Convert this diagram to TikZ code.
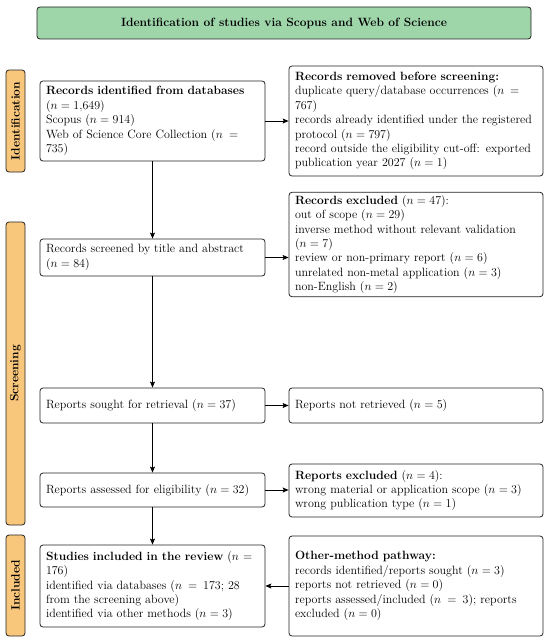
\documentclass[tikz,border=0pt]{standalone}
\usetikzlibrary{arrows.meta}
\definecolor{titlegreen}{RGB}{158,214,170}
\definecolor{phaseorange}{RGB}{249,199,124}
\definecolor{edgegray}{RGB}{35,35,35}
\newcommand\bodysize{\fontsize{12}{14.4}\selectfont}
\begin{document}
\begin{tikzpicture}[x=1pt,y=-1pt,
  basebox/.style={draw=edgegray, rounded corners=3pt, line width=0.8pt, fill=white,
    inner xsep=6pt, inner ysep=3pt, font=\bodysize, align=left},
  lbox/.style={basebox, text width=213pt},
  rbox/.style={basebox, text width=242pt},
  phase/.style={draw=edgegray, rounded corners=3pt, line width=0.8pt, fill=phaseorange,
    rotate=90, minimum height=19pt, inner sep=0pt, font=\bodysize\bfseries},
  arr/.style={line width=0.8pt, -{Stealth[length=6pt,width=5pt,inset=1.2pt]}}
]
\useasboundingbox (0,0) rectangle (550,642);

\node[draw=edgegray, rounded corners=3pt, line width=0.8pt, fill=titlegreen,
  minimum width=494pt, minimum height=32pt, inner sep=0pt,
  font=\bodysize\bfseries] (title) at (284,23)
  {Identification of studies via Scopus and Web of Science};

\node[phase, minimum width=102pt] (pid) at (15.5,121) {Identification};
\node[phase, minimum width=303pt] (pscr) at (15.5,373.5) {Screening};
\node[phase, minimum width=101pt] (pinc) at (15.5,585.5) {Included};

\node[lbox, minimum height=80pt] (rid) at (152.5,121)
  {\textbf{Records identified from databases}\\ ($n = 1{,}649$)\\ Scopus ($n = 914$)\\ Web of Science Core Collection ($n = 735$)};
\node[lbox, minimum height=37pt] (scr) at (152.5,257.5)
  {Records screened by title and abstract ($n = 84$)};
\node[lbox, minimum height=35pt] (sought) at (152.5,405.5)
  {Reports sought for retrieval ($n = 37$)};
\node[lbox, minimum height=34pt] (assessed) at (152.5,490)
  {Reports assessed for eligibility ($n = 32$)};
\node[lbox, minimum height=82pt] (incl) at (152.5,586)
  {\textbf{Studies included in the review} ($n = 176$)\\ identified via databases ($n = 173$; 28 from the screening above)\\ identified via other methods ($n = 3$)};

\node[rbox, minimum height=110pt] (removed) at (416,121)
  {\textbf{Records removed before screening:}\\ duplicate query/database occurrences ($n = 767$)\\ records already identified under the registered protocol ($n = 797$)\\ record outside the eligibility cut-off: exported publication year 2027 ($n = 1$)};
\node[rbox, minimum height=83pt] (excl) at (416,244.5)
  {\textbf{Records excluded} ($n = 47$):\\ out of scope ($n = 29$)\\ inverse method without relevant validation\\ ($n = 7$)\\ review or non-primary report ($n = 6$)\\ unrelated non-metal application ($n = 3$)\\ non-English ($n = 2$)};
\node[rbox, minimum height=35pt] (notret) at (416,405.5)
  {Reports not retrieved ($n = 5$)};
\node[rbox, minimum height=53pt] (repexcl) at (416,490.5)
  {\textbf{Reports excluded} ($n = 4$):\\ wrong material or application scope ($n = 3$)\\ wrong publication type ($n = 1$)};
\node[rbox, minimum height=100pt] (other) at (416,586)
  {\textbf{Other-method pathway:}\\ records identified/reports sought ($n = 3$)\\ reports not retrieved ($n = 0$)\\ reports assessed/included ($n = 3$); reports excluded ($n = 0$)};

\draw[arr] (rid.south) -- (scr.north);
\draw[arr] (scr.south) -- (sought.north);
\draw[arr] (sought.south) -- (assessed.north);
\draw[arr] (assessed.south) -- (incl.north);
\draw[arr] (rid.east) -- (rid.east -| removed.west);
\draw[arr] (scr.east) -- (scr.east -| excl.west);
\draw[arr] (sought.east) -- (sought.east -| notret.west);
\draw[arr] (assessed.east) -- (assessed.east -| repexcl.west);
\draw[arr] (other.west) -- (other.west -| incl.east);
\end{tikzpicture}
\end{document}
